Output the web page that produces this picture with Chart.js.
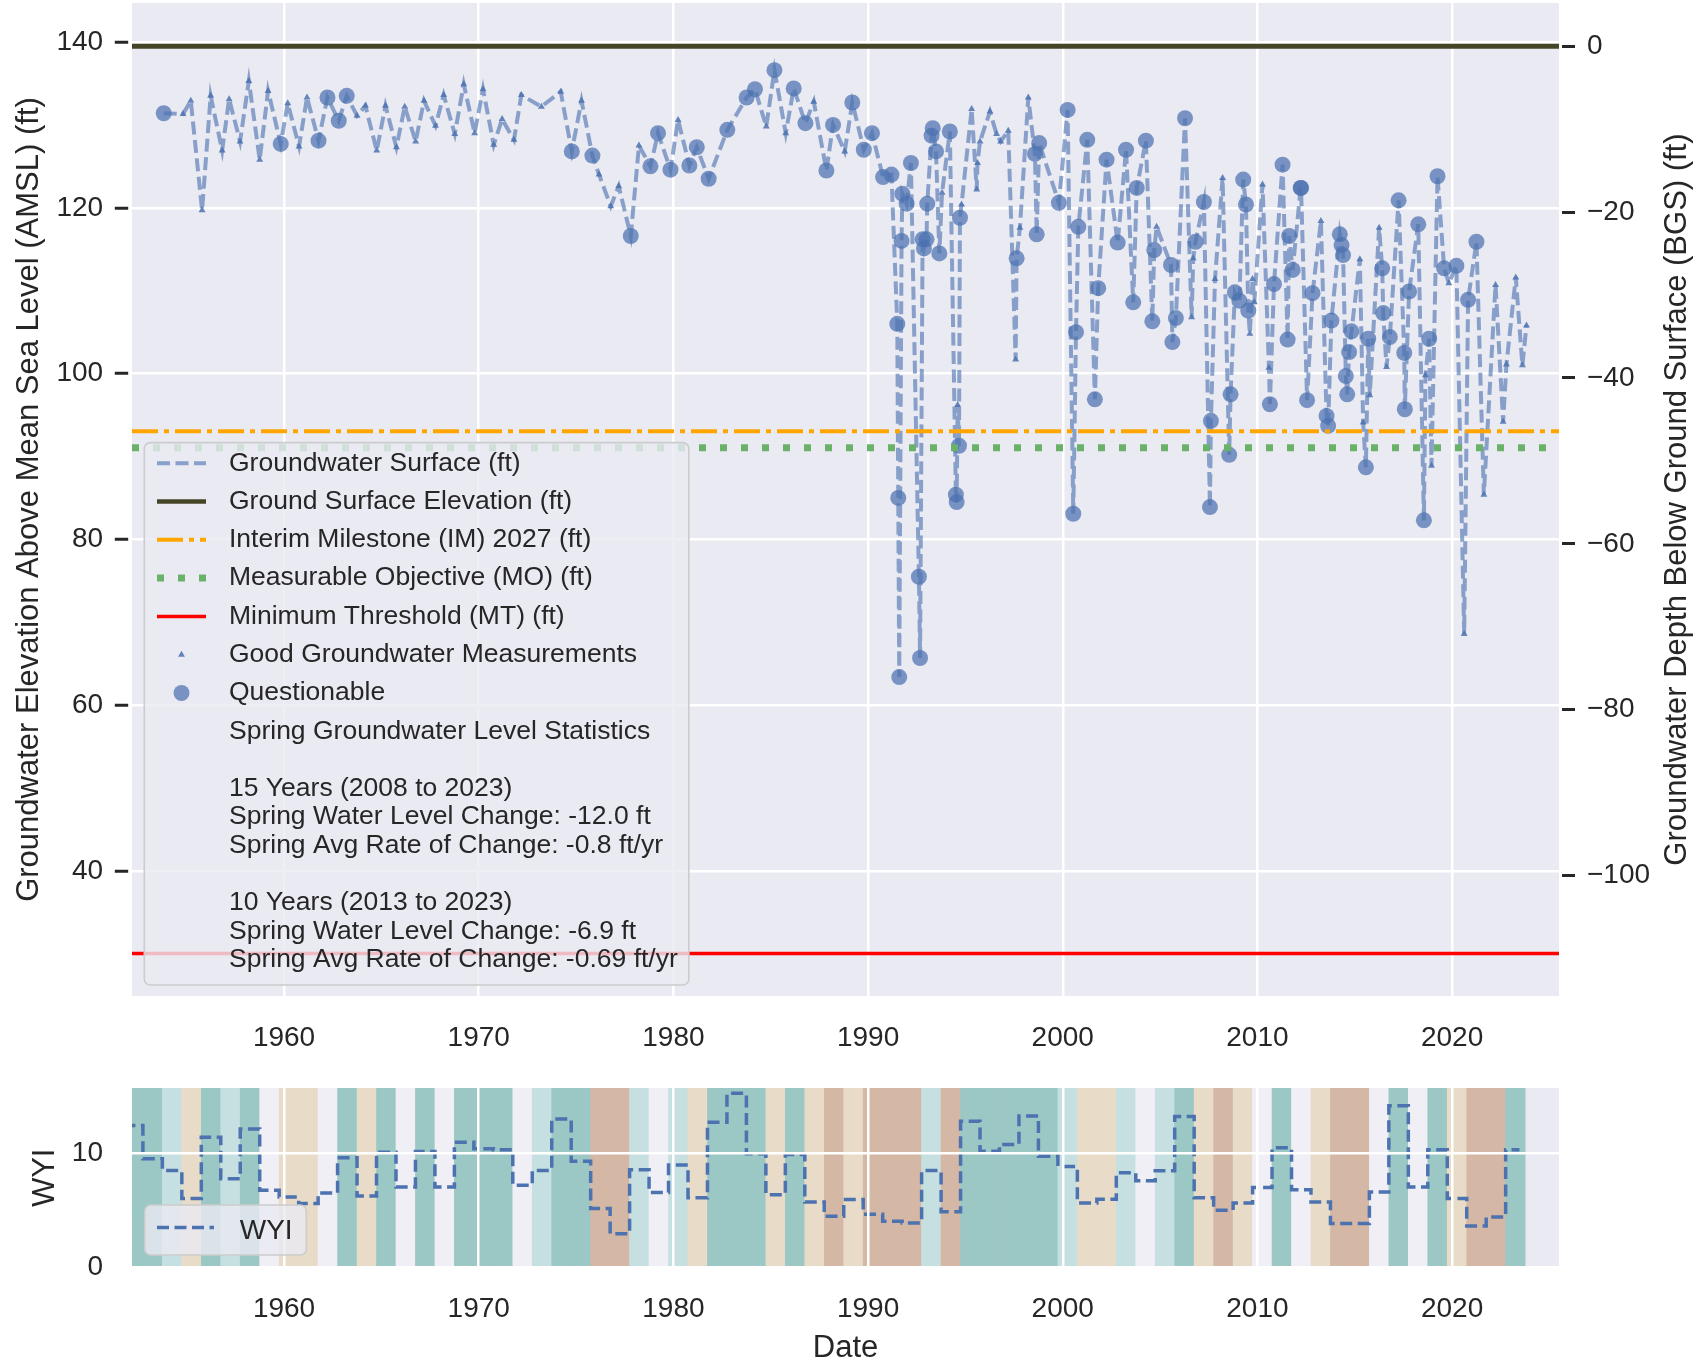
<!DOCTYPE html>
<html>
<head>
<meta charset="utf-8">
<script src="https://cdn.jsdelivr.net/npm/chart.js@4.4.0/dist/chart.umd.min.js"></script>
<style>
  html, body { margin: 0; padding: 0; background: #fff; overflow: hidden; }
  canvas { position: absolute; left: 0; }
  #levelChart { top: 0; }
  #wyiChart { top: 1075px; }
</style>
</head>
<body>
<canvas id="levelChart" width="1701" height="1075"></canvas>
<canvas id="wyiChart" width="1701" height="286"></canvas>
<script>
Chart.defaults.font.family = "'Liberation Sans', Arial, sans-serif";
Chart.defaults.color = '#262626';

// groundwater level measurements: decimal year, ft AMSL, 1 = questionable
const gwDates = [
  1953.82, 1954.81, 1955.21, 1955.79, 1956.23, 1956.82, 1957.18, 1957.74, 1958.19, 1958.75,
  1959.18, 1959.83, 1960.19, 1960.77, 1961.18, 1961.77, 1962.23, 1962.81, 1963.22, 1963.75,
  1964.18, 1964.76, 1965.21, 1965.77, 1966.20, 1966.76, 1967.19, 1967.78, 1968.20, 1968.77,
  1969.23, 1969.79, 1970.22, 1970.77, 1971.20, 1971.81, 1972.19, 1973.22, 1974.21, 1974.78,
  1975.28, 1975.84, 1976.18, 1976.78, 1977.19, 1977.81, 1978.23, 1978.82, 1979.21, 1979.85,
  1980.24, 1980.82, 1981.20, 1981.81, 1982.77, 1983.76, 1984.19, 1984.77, 1985.19, 1985.77,
  1986.18, 1986.78, 1987.21, 1987.86, 1988.20, 1988.80, 1989.19, 1989.78, 1990.20, 1990.77,
  1991.20, 1991.50, 1991.55, 1991.60, 1991.72, 1991.76, 1991.98, 1992.20, 1992.61, 1992.67,
  1992.80, 1992.87, 1993.00, 1993.04, 1993.26, 1993.32, 1993.49, 1993.66, 1993.80, 1994.20,
  1994.51, 1994.55, 1994.60, 1994.67, 1994.72, 1994.80, 1995.32, 1995.58, 1995.62, 1995.75,
  1996.26, 1996.60, 1996.81, 1997.20, 1997.58, 1997.63, 1997.80, 1998.23, 1998.57, 1998.66,
  1998.79, 1999.80, 2000.25, 2000.54, 2000.68, 2000.80, 2001.26, 2001.65, 2001.82, 2002.25,
  2002.82, 2003.25, 2003.62, 2003.80, 2004.27, 2004.60, 2004.70, 2004.82, 2005.56, 2005.63,
  2005.81, 2006.28, 2006.62, 2006.70, 2006.82, 2007.25, 2007.56, 2007.61, 2007.82, 2008.21,
  2008.55, 2008.62, 2008.84, 2009.07, 2009.27, 2009.41, 2009.53, 2009.61, 2009.75, 2009.84,
  2010.26, 2010.59, 2010.64, 2010.85, 2011.29, 2011.55, 2011.63, 2011.81, 2012.22, 2012.24,
  2012.55, 2012.83, 2013.26, 2013.55, 2013.63, 2013.80, 2014.23, 2014.32, 2014.40, 2014.54,
  2014.61, 2014.71, 2014.83, 2015.26, 2015.43, 2015.57, 2015.69, 2015.77, 2016.25, 2016.41,
  2016.46, 2016.63, 2016.80, 2017.25, 2017.54, 2017.57, 2017.79, 2018.26, 2018.55, 2018.63,
  2018.82, 2018.94, 2019.25, 2019.59, 2019.83, 2020.22, 2020.62, 2020.82, 2021.25, 2021.63,
  2022.23, 2022.62, 2022.79, 2023.27, 2023.61, 2023.82
];
const gwLevels = [
  131.4, 131.3, 132.9, 119.7, 133.5, 126.9, 133.1, 128.0, 135.3, 125.8,
  134.1, 127.7, 132.6, 127.4, 133.3, 128.1, 133.3, 130.5, 133.5, 131.1,
  132.3, 126.9, 132.3, 127.3, 132.2, 128.0, 132.9, 129.9, 133.6, 128.9,
  134.9, 129.0, 134.3, 127.6, 130.7, 128.2, 133.6, 132.2, 134.0, 126.8,
  132.9, 126.3, 124.0, 120.2, 122.6, 116.6, 127.5, 125.0, 129.0, 124.6,
  130.6, 125.1, 127.3, 123.5, 129.4, 133.3, 134.3, 129.8, 136.6, 129.0,
  134.4, 130.2, 132.8, 124.5, 130.0, 126.8, 132.7, 127.0, 129.0, 123.7,
  124.0, 106.0, 85.0, 63.4, 116.0, 121.7, 120.5, 125.4, 75.5, 65.7,
  116.2, 115.1, 116.2, 120.5, 128.7, 129.6, 126.8, 114.5, 121.8, 129.2,
  85.4, 84.5, 96.2, 91.3, 118.8, 120.4, 131.9, 122.2, 125.4, 128.0,
  131.6, 128.9, 128.0, 129.3, 101.7, 113.9, 117.6, 133.3, 126.5, 116.8,
  127.8, 120.6, 131.8, 83.1, 105.0, 117.7, 128.2, 96.9, 110.3, 125.8,
  115.8, 127.0, 108.6, 122.4, 128.1, 106.3, 114.9, 117.7, 113.1, 103.8,
  106.7, 130.8, 106.8, 113.9, 115.9, 120.7, 83.9, 94.3, 111.4, 123.6,
  90.2, 97.5, 109.8, 108.8, 123.4, 120.4, 107.6, 104.8, 111.4, 108.6,
  122.8, 100.7, 96.3, 110.8, 125.2, 104.1, 116.6, 112.5, 122.4, 122.4,
  96.8, 109.7, 118.4, 94.9, 93.7, 106.4, 116.8, 115.5, 114.3, 99.7,
  97.5, 102.6, 105.1, 113.8, 94.1, 88.7, 104.2, 97.4, 117.6, 112.7,
  107.3, 100.8, 104.4, 120.9, 102.5, 95.7, 109.9, 118.0, 82.3, 99.8,
  104.2, 88.9, 123.8, 112.7, 110.9, 113.0, 68.6, 108.9, 115.9, 85.4,
  110.7, 94.2, 101.1, 111.6, 101.0, 105.8
];
const gwQuestionable = [
  1, 0, 0, 0, 0, 0, 0, 0, 0, 0,
  0, 1, 0, 0, 0, 1, 1, 1, 1, 0,
  0, 0, 0, 0, 0, 0, 0, 0, 0, 0,
  0, 0, 0, 0, 0, 0, 0, 0, 0, 1,
  0, 1, 0, 0, 0, 1, 0, 1, 1, 1,
  0, 1, 1, 1, 1, 1, 1, 0, 1, 0,
  1, 1, 0, 1, 1, 0, 1, 1, 1, 1,
  1, 1, 1, 1, 1, 1, 1, 1, 1, 1,
  1, 1, 1, 1, 1, 1, 1, 1, 0, 1,
  1, 1, 0, 1, 1, 0, 0, 0, 0, 0,
  0, 0, 0, 0, 0, 1, 0, 0, 1, 1,
  1, 1, 1, 1, 1, 1, 1, 1, 1, 1,
  1, 1, 1, 1, 1, 1, 1, 0, 1, 1,
  1, 1, 0, 0, 1, 1, 1, 1, 0, 0,
  1, 1, 1, 1, 1, 1, 1, 0, 0, 0,
  0, 0, 1, 1, 1, 1, 1, 1, 1, 1,
  1, 1, 0, 1, 1, 1, 1, 1, 1, 1,
  1, 1, 1, 0, 0, 1, 1, 0, 0, 1,
  1, 0, 1, 1, 1, 1, 1, 1, 1, 0,
  1, 0, 1, 1, 0, 1, 0, 1, 1, 0,
  0, 0, 0, 0, 0, 0
];

// reference levels (ft AMSL)
const groundSurface = 139.47;
const interimMilestone = 93.05;
const measurableObjective = 91.05;
const minimumThreshold = 30.06;

// water year index and year type (W, AN, BN, D, C)
const wyYears = [];
for (let y = 1952; y <= 2023; y++) wyYears.push(y);
const wyIndex = [
  12.47, 9.56, 8.54, 6.07, 11.45, 7.81, 12.18, 6.79, 6.20, 5.63,
  6.56, 9.64, 6.29, 10.14, 7.08, 10.20, 7.08, 11.01, 10.44, 10.35,
  7.23, 8.54, 13.06, 9.34, 5.19, 2.97, 8.60, 6.60, 9.02, 6.14,
  12.76, 15.30, 9.99, 6.41, 9.93, 5.77, 4.52, 5.99, 4.69, 4.08,
  3.93, 8.52, 4.90, 12.85, 10.23, 10.81, 13.32, 9.79, 8.89, 5.68,
  6.00, 8.33, 7.63, 8.50, 13.26, 6.14, 5.05, 5.68, 7.03, 10.52,
  6.85, 5.77, 3.88, 3.88, 6.64, 14.22, 7.08, 10.35, 6.07, 3.67,
  4.45, 10.35
];
const wyTypes = [
  'W', 'W', 'AN', 'D', 'W', 'AN', 'W', 'BN', 'D', 'D',
  'BN', 'W', 'D', 'W', 'BN', 'W', 'BN', 'W', 'W', 'W',
  'BN', 'AN', 'W', 'W', 'C', 'C', 'AN', 'BN', 'AN', 'D',
  'W', 'W', 'W', 'D', 'W', 'D', 'C', 'D', 'C', 'C',
  'C', 'AN', 'C', 'W', 'W', 'W', 'W', 'W', 'AN', 'D',
  'D', 'AN', 'BN', 'AN', 'W', 'D', 'C', 'D', 'BN', 'W',
  'BN', 'D', 'C', 'C', 'BN', 'W', 'BN', 'W', 'D', 'C',
  'C', 'W'
];
const wyiEnd = 2023.46;

const yearTicks = [1960, 1970, 1980, 1990, 2000, 2010, 2020];
const elevTicks = [40, 60, 80, 100, 120, 140];
const depthTicks = [0, -20, -40, -60, -80, -100];
const wyiTicks = [0, 10];

const statsLines = [
  'Spring Groundwater Level Statistics',
  '',
  '15 Years (2008 to 2023)',
  'Spring Water Level Change: -12.0 ft',
  'Spring Avg Rate of Change: -0.8 ft/yr',
  '',
  '10 Years (2013 to 2023)',
  'Spring Water Level Change: -6.9 ft',
  'Spring Avg Rate of Change: -0.69 ft/yr'
];

const xMin = 1952.19, xMax = 2025.49;
const yMin = 24.93, yMax = 144.7;
const wyiMax = 15.77;

const blue = '#4c72b0';
const gwLineColor = 'rgba(76,114,176,0.62)';
const circleColor = 'rgba(76,114,176,0.72)';
const triColor = 'rgba(76,114,176,0.85)';
const gseColor = '#444427';
const imColor = '#ffa500';
const moColor = '#6ab26a';
const mtColor = '#ff0000';
const typeColors = { W: '#9bc7c4', AN: '#c6e0e1', BN: '#efeff5', D: '#e8dcc9', C: '#d4b7a5' };
const textColor = '#262626';
const fontFam = "'Liberation Sans', Arial, sans-serif";

const gwPoints = gwDates.map((d, i) => ({ x: d, y: gwLevels[i] }));
const goodPoints = gwPoints.filter((p, i) => !gwQuestionable[i]);
const questPoints = gwPoints.filter((p, i) => gwQuestionable[i]);
const hline = v => [{ x: xMin, y: v }, { x: xMax, y: v }];

const plotBg = {
  id: 'plotBg',
  beforeDraw(chart) {
    const { ctx, chartArea: a } = chart;
    ctx.save();
    ctx.fillStyle = '#eaeaf2';
    ctx.fillRect(a.left, a.top, a.right - a.left, a.bottom - a.top);
    ctx.restore();
  }
};

// no label overhang padding, so the plot box lands where we want it
function fixWidth(w) {
  return s => { s.width = w; s.paddingTop = 0; s.paddingBottom = 0; s.paddingLeft = 0; s.paddingRight = 0; };
}
function fixHeight(h) {
  return s => { s.height = h; s.paddingTop = 0; s.paddingBottom = 0; s.paddingLeft = 0; s.paddingRight = 0; };
}

function legendBox(ctx, x, y, w, h, r) {
  ctx.beginPath();
  ctx.moveTo(x + r, y);
  ctx.arcTo(x + w, y, x + w, y + h, r);
  ctx.arcTo(x + w, y + h, x, y + h, r);
  ctx.arcTo(x, y + h, x, y, r);
  ctx.arcTo(x, y, x + w, y, r);
  ctx.closePath();
  ctx.fillStyle = 'rgba(234,234,242,0.8)';
  ctx.fill();
  ctx.strokeStyle = '#cccccc';
  ctx.lineWidth = 1.6;
  ctx.stroke();
}

function sampleLine(ctx, x1, x2, y, color, width, dash) {
  ctx.save();
  ctx.beginPath();
  ctx.setLineDash(dash || []);
  ctx.strokeStyle = color;
  ctx.lineWidth = width;
  ctx.moveTo(x1, y);
  ctx.lineTo(x2, y);
  ctx.stroke();
  ctx.restore();
}

const levelLegend = {
  id: 'levelLegend',
  afterDraw(chart) {
    const { ctx, chartArea: a } = chart;
    ctx.save();
    legendBox(ctx, a.left + 12.3, 442.6, 544.5, 542.4, 6);

    const x1 = 157, x2 = 206, mx = 181.5, tx = 229;
    const rowY = i => 463.2 + i * 38.3;
    sampleLine(ctx, x1, x2, rowY(0), gwLineColor, 4, [13, 5.5]);
    sampleLine(ctx, x1, x2, rowY(1), gseColor, 4.5);
    sampleLine(ctx, x1, x2, rowY(2), imColor, 4, [26, 6, 5, 6]);
    sampleLine(ctx, x1, x2, rowY(3), moColor, 7, [7, 14]);
    sampleLine(ctx, x1, x2, rowY(4), mtColor, 3.5);
    // triangle marker
    ctx.fillStyle = triColor;
    ctx.beginPath();
    const r = 4, ty = rowY(5);
    ctx.moveTo(mx, ty - r);
    ctx.lineTo(mx + r * 0.866, ty + r * 0.5);
    ctx.lineTo(mx - r * 0.866, ty + r * 0.5);
    ctx.closePath();
    ctx.fill();
    // circle marker
    ctx.fillStyle = circleColor;
    ctx.beginPath();
    ctx.arc(mx, rowY(6), 8, 0, Math.PI * 2);
    ctx.fill();

    ctx.fillStyle = textColor;
    ctx.font = '26.5px ' + fontFam;
    ctx.textBaseline = 'middle';
    ctx.textAlign = 'left';
    const labels = ['Groundwater Surface (ft)', 'Ground Surface Elevation (ft)',
      'Interim Milestone (IM) 2027 (ft)', 'Measurable Objective (MO) (ft)',
      'Minimum Threshold (MT) (ft)', 'Good Groundwater Measurements', 'Questionable'];
    labels.forEach((t, i) => ctx.fillText(t, tx, rowY(i)));
    statsLines.forEach((t, i) => ctx.fillText(t, tx, rowY(7) + i * 28.6));

    // right axis title (reads bottom to top)
    ctx.font = '31px ' + fontFam;
    ctx.textAlign = 'center';
    ctx.translate(1677, (a.top + a.bottom) / 2);
    ctx.rotate(-Math.PI / 2);
    ctx.fillText('Groundwater Depth Below Ground Surface (BGS) (ft)', 0, 0);
    ctx.restore();
  }
};

const wyiLegend = {
  id: 'wyiLegend',
  afterDraw(chart) {
    const ctx = chart.ctx;
    ctx.save();
    legendBox(ctx, 144.7, 130, 161.6, 50, 6);
    sampleLine(ctx, 157, 214, 152.5, blue, 3.5, [12, 5.5]);
    ctx.fillStyle = textColor;
    ctx.font = '28px ' + fontFam;
    ctx.textBaseline = 'middle';
    ctx.fillText('WYI', 239.7, 156);
    ctx.restore();
  }
};

const tickFont = { size: 28 };
const titleFont = { size: 31, lineHeight: 1 };

new Chart(document.getElementById('levelChart'), {
  type: 'line',
  data: {
    datasets: [
      { label: 'Ground Surface Elevation (ft)', data: hline(groundSurface), borderColor: gseColor, borderWidth: 5, pointRadius: 0 },
      { label: 'Interim Milestone (IM) 2027 (ft)', data: hline(interimMilestone), borderColor: imColor, borderWidth: 4, borderDash: [26, 6, 5, 6], pointRadius: 0 },
      { label: 'Measurable Objective (MO) (ft)', data: hline(measurableObjective), borderColor: moColor, borderWidth: 7, borderDash: [7, 14], pointRadius: 0 },
      { label: 'Minimum Threshold (MT) (ft)', data: hline(minimumThreshold), borderColor: mtColor, borderWidth: 3.5, pointRadius: 0 },
      { label: 'Questionable', data: questPoints, showLine: false, pointStyle: 'circle', pointRadius: 8, pointBackgroundColor: circleColor, pointBorderWidth: 0 },
      { label: 'Good Groundwater Measurements', data: goodPoints, showLine: false, pointStyle: 'triangle', pointRadius: 4, pointBackgroundColor: triColor, pointBorderWidth: 0 },
      { label: 'Groundwater Surface (ft)', data: gwPoints, borderColor: gwLineColor, borderWidth: 4, borderDash: [13, 5.5], pointRadius: 0 }
    ]
  },
  options: {
    responsive: false,
    devicePixelRatio: 1,
    animation: false,
    events: [],
    layout: { autoPadding: false, padding: { top: 3, left: 0, right: 0, bottom: 0 } },
    plugins: { legend: { display: false }, tooltip: { enabled: false } },
    scales: {
      x: {
        type: 'linear', min: xMin, max: xMax, offset: false,
        afterBuildTicks: s => { s.ticks = yearTicks.map(v => ({ value: v })); },
        afterFit: fixHeight(79),
        grid: { color: '#ffffff', lineWidth: 2.5, drawTicks: false },
        border: { display: false },
        ticks: { font: tickFont, color: textColor, padding: 25, maxRotation: 0, callback: v => String(v) }
      },
      y: {
        position: 'left', min: yMin, max: yMax,
        afterBuildTicks: s => { s.ticks = elevTicks.map(v => ({ value: v })); },
        afterFit: fixWidth(132),
        grid: { color: '#ffffff', lineWidth: 2.5, drawTicks: true, tickLength: 17.2, tickWidth: 3, tickColor: textColor, tickBorderDash: [13.4, 3.8] },
        border: { display: false },
        ticks: { font: tickFont, color: textColor, padding: 11.7, callback: v => String(v) },
        title: { display: true, text: 'Groundwater Elevation Above Mean Sea Level (AMSL) (ft)', font: titleFont, color: textColor, padding: { top: 14, bottom: 0 } }
      },
      y2: {
        position: 'right', min: yMin - groundSurface, max: yMax - groundSurface,
        afterBuildTicks: s => { s.ticks = depthTicks.map(v => ({ value: v })); },
        afterFit: fixWidth(142),
        grid: { drawOnChartArea: false, drawTicks: true, tickLength: 16, tickWidth: 3, tickColor: textColor, tickBorderDash: [13, 3], tickBorderDashOffset: 13 },
        border: { display: false },
        ticks: { font: tickFont, color: textColor, padding: 12, callback: v => String(v).replace('-', '\u2212') }
      }
    }
  },
  plugins: [plotBg, levelLegend]
});

const wyiPoints = wyYears.map((y, i) => ({ x: y - 0.25, y: wyIndex[i] }));
wyiPoints.push({ x: wyiEnd, y: wyIndex[wyIndex.length - 1] });

new Chart(document.getElementById('wyiChart'), {
  type: 'line',
  data: {
    datasets: [
      { type: 'line', label: 'WYI', data: wyiPoints, stepped: true, borderColor: blue, borderWidth: 3.5, borderDash: [12, 5.5], pointRadius: 0 },
      { type: 'bar', label: 'Water year type', data: wyYears.map(y => ({ x: y + 0.25, y: 16 })),
        backgroundColor: wyTypes.map(t => typeColors[t]), barPercentage: 1, categoryPercentage: 1, borderWidth: 0 }
    ]
  },
  options: {
    responsive: false,
    devicePixelRatio: 1,
    animation: false,
    events: [],
    layout: { autoPadding: false, padding: { top: 13, left: 0, right: 142, bottom: 0 } },
    plugins: { legend: { display: false }, tooltip: { enabled: false } },
    scales: {
      x: {
        type: 'linear', min: xMin, max: xMax, offset: false,
        afterBuildTicks: s => { s.ticks = yearTicks.map(v => ({ value: v })); },
        afterFit: fixHeight(93.3),
        grid: { color: '#ffffff', lineWidth: 2.5, drawTicks: false, z: 1, offset: false },
        border: { display: false },
        ticks: { font: tickFont, color: textColor, padding: 24.5, maxRotation: 0, callback: v => String(v) },
        title: { display: true, text: 'Date', font: titleFont, color: textColor, padding: { top: 0, bottom: -2.5 } }
      },
      y: {
        min: 0, max: wyiMax,
        afterBuildTicks: s => { s.ticks = wyiTicks.map(v => ({ value: v })); },
        afterFit: fixWidth(132),
        grid: { color: '#ffffff', lineWidth: 2.5, drawTicks: false, z: 1 },
        border: { display: false },
        ticks: { font: tickFont, color: textColor, padding: 29, callback: v => String(v) },
        title: { display: true, text: 'WYI', font: titleFont, color: textColor, padding: { top: 29.5, bottom: 0 } }
      }
    }
  },
  plugins: [plotBg, wyiLegend]
});
</script>
</body>
</html>
